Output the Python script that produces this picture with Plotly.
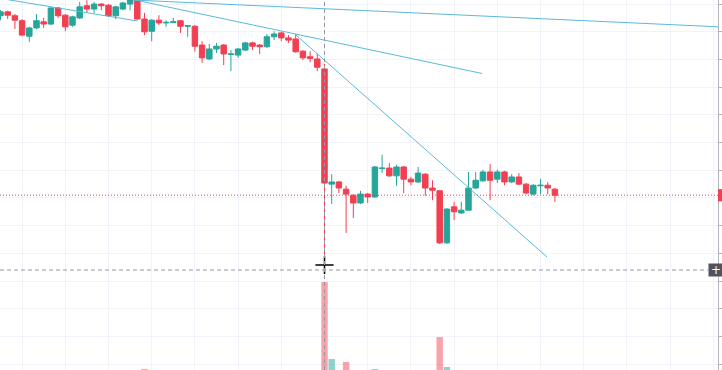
import plotly.graph_objects as go

# ---- data ----
bar_index = list(range(78))

open_ = [23.29, 23.36, 23.29, 23.20, 22.92, 23.07, 23.18, 23.14, 23.43, 23.30,
         23.12, 23.25, 23.47, 23.41, 23.50, 23.48, 23.29, 23.41, 23.50, 23.59,
         23.23, 23.01, 23.21, 23.16, 23.17, 23.20, 23.10, 23.10, 22.76, 22.51,
         22.69, 22.76, 22.59, 22.58, 22.67, 22.80, 22.76, 22.73, 22.91, 22.98,
         22.89, 22.87, 22.65, 22.55, 22.51, 22.33, 20.25, 20.29, 20.16, 20.05,
         19.91, 20.07, 20.02, 20.53, 20.54, 20.40, 20.56, 20.34, 20.29, 20.43,
         20.18, 20.13, 19.19, 19.84, 19.73, 19.78, 20.18, 20.31, 20.47, 20.34,
         20.47, 20.29, 20.38, 20.25, 20.07, 20.22, 20.23, 20.16]
high = [23.39, 23.38, 23.32, 23.23, 23.09, 23.32, 23.25, 23.45, 23.45, 23.32,
        23.29, 23.54, 23.57, 23.54, 23.52, 23.50, 23.47, 23.54, 23.63, 23.65,
        23.34, 23.23, 23.30, 23.21, 23.25, 23.21, 23.12, 23.12, 22.83, 22.78,
        22.80, 22.78, 22.67, 22.71, 22.82, 22.82, 22.78, 22.96, 23.01, 23.00,
        22.94, 22.96, 22.67, 22.65, 22.60, 22.42, 20.43, 20.31, 20.22, 20.07,
        20.13, 20.09, 20.58, 20.78, 20.63, 20.60, 20.58, 20.38, 20.56, 20.45,
        20.32, 20.14, 19.82, 19.93, 19.93, 20.47, 20.47, 20.51, 20.61, 20.51,
        20.49, 20.43, 20.45, 20.27, 20.25, 20.34, 20.29, 20.18]
low = [23.21, 23.23, 23.05, 22.92, 22.82, 23.05, 23.07, 23.12, 23.25, 23.01,
       23.09, 23.23, 23.34, 23.34, 23.39, 23.27, 23.23, 23.39, 23.39, 23.21,
       22.94, 22.83, 23.12, 23.09, 23.16, 22.98, 22.91, 22.64, 22.44, 22.49,
       22.62, 22.40, 22.29, 22.53, 22.65, 22.67, 22.60, 22.71, 22.85, 22.83,
       22.80, 22.62, 22.49, 22.45, 22.29, 18.84, 19.89, 20.09, 19.37, 19.64,
       19.89, 19.91, 20.00, 20.45, 20.38, 20.22, 20.09, 20.23, 20.27, 20.04,
       19.96, 19.17, 19.17, 19.60, 19.71, 19.77, 20.16, 20.29, 19.96, 20.27,
       20.23, 20.27, 20.23, 20.07, 20.05, 20.07, 20.07, 19.93]
close = [23.36, 23.30, 23.21, 22.94, 23.07, 23.20, 23.14, 23.43, 23.29, 23.09,
         23.27, 23.45, 23.41, 23.50, 23.47, 23.29, 23.45, 23.52, 23.58, 23.23,
         23.00, 23.21, 23.16, 23.17, 23.18, 23.10, 23.11, 22.74, 22.53, 22.69,
         22.74, 22.60, 22.60, 22.69, 22.80, 22.74, 22.73, 22.91, 22.96, 22.89,
         22.85, 22.64, 22.53, 22.52, 22.36, 20.27, 20.29, 20.18, 20.07, 19.91,
         20.07, 20.02, 20.56, 20.54, 20.40, 20.56, 20.34, 20.29, 20.45, 20.18,
         20.14, 19.19, 19.80, 19.75, 19.78, 20.18, 20.32, 20.47, 20.32, 20.47,
         20.29, 20.38, 20.25, 20.09, 20.23, 20.23, 20.18, 20.05]
volume = [3, 2, 3, 4, 3, 2, 3, 4, 2, 3,
          3, 4, 2, 3, 2, 3, 3, 2, 4, 5,
          7, 4, 3, 2, 2, 3, 2, 4, 5, 4,
          3, 3, 4, 3, 3, 2, 3, 4, 3, 3,
          2, 4, 3, 3, 5, 94, 17, 5, 14, 5,
          4, 3, 7, 4, 3, 3, 4, 3, 3, 4,
          5, 39, 9, 5, 4, 5, 5, 4, 6, 3,
          4, 3, 3, 4, 3, 2, 3, 4]

# trend-line drawings (bar index, price)
line_a = [(-3.0, 23.666), (19.0, 23.195)]
line_b = [(18.68, 23.574), (66.9, 22.247)]
line_c = [(41.04, 22.942), (75.9, 18.935)]
line_d = [(18.4, 23.574), (100.2, 23.087)]
crosshair_bar = 45
crosshair_price = 18.70
cursor_price = 18.79

UP = "#26A69A"
DOWN = "#F23F52"
UP_VOL = "rgba(38,166,154,0.5)"
DOWN_VOL = "rgba(242,54,69,0.45)"
GRID = "#F0F3FA"
TREND = "#5AB9DC"
CROSS = "#9598A1"

vol_colors = [UP_VOL if c >= o else DOWN_VOL for o, c in zip(open_, close)]
last_close = close[-1]

fig = go.Figure()
fig.add_trace(go.Bar(
    x=bar_index, y=volume, marker_color=vol_colors, marker_line_width=0,
    yaxis="y2", hoverinfo="skip", showlegend=False))
fig.add_trace(go.Candlestick(
    x=bar_index, open=open_, high=high, low=low, close=close,
    increasing=dict(line=dict(color=UP, width=1), fillcolor=UP),
    decreasing=dict(line=dict(color=DOWN, width=1), fillcolor=DOWN),
    whiskerwidth=0, showlegend=False))
fig.add_trace(go.Scatter(
    x=[crosshair_bar], y=[cursor_price], mode="markers",
    marker=dict(symbol="cross-thin-open", size=13, color="#000000", line=dict(color="#000000", width=1.5)),
    hoverinfo="skip", showlegend=False))

shapes = []
for (x0, y0), (x1, y1) in [line_a, line_b, line_c, line_d]:
    shapes.append(dict(type="line", xref="x", yref="y", x0=x0, y0=y0, x1=x1, y1=y1,
                       line=dict(color=TREND, width=1), layer="above"))
# last price dotted line
shapes.append(dict(type="line", xref="paper", yref="y", x0=0, x1=1, y0=last_close, y1=last_close,
                   line=dict(color=DOWN, width=1, dash="1px,2px"), layer="above"))
# crosshair
shapes.append(dict(type="line", xref="x", yref="paper", x0=crosshair_bar, x1=crosshair_bar, y0=0, y1=1,
                   line=dict(color=CROSS, width=1, dash="4px,3px"), layer="above"))
shapes.append(dict(type="line", xref="paper", yref="y", x0=0, x1=708 / 718, y0=crosshair_price, y1=crosshair_price,
                   line=dict(color=CROSS, width=1, dash="4px,3px"), layer="above"))
# last price label on the axis (cut off)
shapes.append(dict(type="rect", xref="paper", yref="y", x0=1.0, x1=1.01, y0=last_close - 0.11, y1=last_close + 0.11,
                   fillcolor=DOWN, line=dict(width=0), layer="above"))

fig.update_layout(
    width=722, height=370,
    margin=dict(l=0, r=4, t=0, b=0),
    paper_bgcolor="white", plot_bgcolor="white",
    showlegend=False, bargap=0.1, boxgap=0.2, boxgroupgap=0.05,
    shapes=shapes,
    annotations=[dict(xref="paper", yref="y", x=708 / 718, xanchor="left", y=crosshair_price, yanchor="middle",
                      text="+", showarrow=False, bgcolor="#50535E",
                      font=dict(color="white", size=12, family="DejaVu Sans"),
                      width=14, height=12, borderpad=0)],
    xaxis=dict(range=[-0.0694, 99.653], tick0=3, dtick=6, showgrid=True, gridcolor=GRID,
               showticklabels=False, zeroline=False, rangeslider=dict(visible=False), fixedrange=True),
    yaxis=dict(range=[16.895, 23.574], side="right", tick0=0, dtick=0.5, showgrid=True, gridcolor=GRID,
               showticklabels=False, zeroline=False, showline=True, linecolor="#B2B5BE", linewidth=1,
               ticks="outside", ticklen=4, tickcolor="#B2B5BE", fixedrange=True),
    yaxis2=dict(overlaying="y", range=[6, 376], showgrid=False, showticklabels=False, zeroline=False,
                visible=False, fixedrange=True),
)

fig.write_html("out.html", config={"displayModeBar": False},
               post_script="document.body.style.margin='0';document.body.style.overflow='hidden';")
